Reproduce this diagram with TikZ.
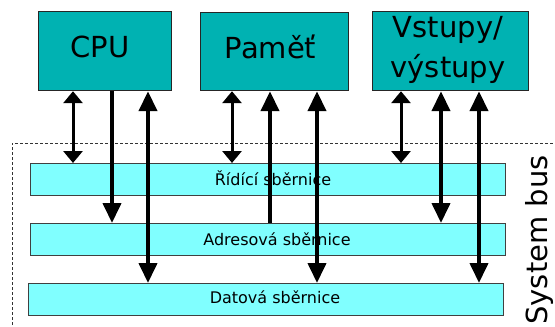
\documentclass[tikz,border=0pt]{standalone}
\usepackage{fontspec}
\setmainfont{DejaVu Sans}
\usetikzlibrary{arrows.meta}
\definecolor{unitfill}{RGB}{0,178,178}
\definecolor{busfill}{RGB}{128,255,255}
\begin{document}
\begin{tikzpicture}[x=1pt,y=-1pt,
  unitbox/.style={draw=black!85, line width=1.2pt, fill=unitfill, inner sep=0pt, anchor=north west},
  busbar/.style={draw=black!75, line width=0.8pt, fill=busfill, inner sep=0pt, anchor=north west, minimum width=475pt, minimum height=32pt},
  bigtext/.style={font=\fontsize{29}{40}\selectfont, inner sep=0pt},
  bustext/.style={font=\fontsize{16}{19}\selectfont, inner sep=0pt, anchor=base},
  thinarr/.style={line width=3pt, {Triangle[length=12pt,width=19pt]}-{Triangle[length=12pt,width=19pt]}},
  fatboth/.style={line width=4pt, {Triangle[length=20pt,width=18pt]}-{Triangle[length=20pt,width=18pt]}},
  fatdown/.style={line width=4pt, -{Triangle[length=20pt,width=18pt]}},
  fatup/.style={line width=4pt, {Triangle[length=20pt,width=18pt]}-},
  sysframe/.style={line width=0.8pt, dash pattern=on 3pt off 2pt, black!80}
]
\useasboundingbox (0,0) rectangle (555,327);

% system bus frame
\draw[sysframe] (12,335) -- (12,143) -- (565,143);

% bus bars
\node[busbar] (ctrl) at (30,163) {};
\node[busbar] (addr) at (30,223) {};
\node[busbar] (data) at (28,283) {};
\node[bustext] (ctrlt) at (273,185) {Řídící sběrnice};
\node[bustext] (addrt) at (277,245) {Adresová sběrnice};
\node[bustext] (datat) at (275,303) {Datová sběrnice};

% units
\node[unitbox, minimum width=133pt, minimum height=79pt] (cpu) at (38,11) {};
\node[unitbox, minimum width=148pt, minimum height=78pt] (mem) at (200,12) {};
\node[unitbox, minimum width=156pt, minimum height=79pt] (io) at (372,11) {};
\node[bigtext, anchor=base] (cput) at (100,57) {CPU};
\node[bigtext, anchor=base] (memt) at (270.5,58) {Paměť};
\node[bigtext, align=center] (iot) at (448,49.5) {Vstupy/\\výstupy};

\node[bigtext, rotate=90, anchor=base] (sys) at (547,240) {System bus};

% x positions of connectors
\coordinate (c1) at (73,0);
\coordinate (c2) at (112,0);
\coordinate (c3) at (148,0);
\coordinate (m1) at (232,0);
\coordinate (m2) at (270,0);
\coordinate (m3) at (317,0);
\coordinate (v1) at (401,0);
\coordinate (v2) at (441,0);
\coordinate (v3) at (479,0);

% CPU
\draw[thinarr] (cpu.south -| c1) -- (ctrl.north -| c1);
\draw[fatdown] (cpu.south -| c2) -- (addr.north -| c2);
\draw[fatboth] (cpu.south -| c3) -- (data.north -| c3);
% memory
\draw[thinarr] (mem.south -| m1) -- (ctrl.north -| m1);
\draw[fatup] (mem.south -| m2) -- (addr.north -| m2);
\draw[fatboth] (mem.south -| m3) -- (data.north -| m3);
% I/O
\draw[thinarr] (io.south -| v1) -- (ctrl.north -| v1);
\draw[fatboth] (io.south -| v2) -- (addr.north -| v2);
\draw[fatboth] (io.south -| v3) -- (data.north -| v3);
\end{tikzpicture}
\end{document}
